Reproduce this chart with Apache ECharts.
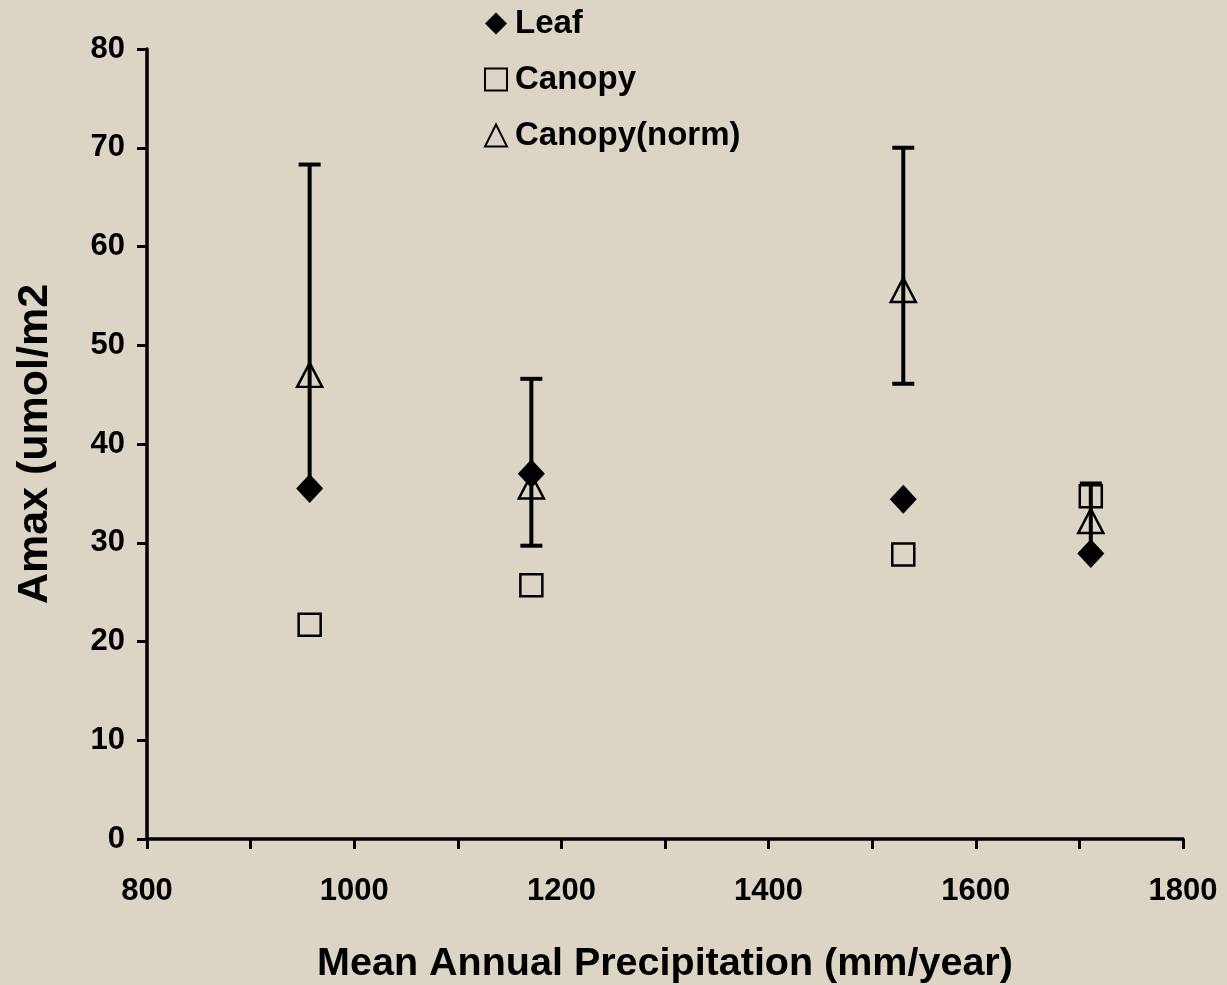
<!DOCTYPE html>
<html>
<head>
<meta charset="utf-8">
<script src="https://cdn.jsdelivr.net/npm/echarts@6/dist/echarts.min.js"></script>
<style>
  html, body { margin: 0; padding: 0; background: #dcd4c5; }
  #chart { width: 1227px; height: 985px; }
</style>
</head>
<body>
<div id="chart"></div>
<script>
// Mean annual precipitation at each site (mm/year)
const precip = [957, 1171, 1530, 1711];
// Amax (umol/m2) per site
const leaf = [35.5, 37.0, 34.4, 28.9];
const canopy = [21.7, 25.7, 28.8, 34.7];
const canopyNorm = [47.0, 35.7, 55.6, 32.2];
// Error bar bounds for Canopy(norm)
const normLow = [35.5, 29.7, 46.1, 29.0];
const normHigh = [68.3, 46.6, 70.0, 36.0];

const FONT = '"Liberation Sans", Arial, sans-serif';

const pairs = (xs, ys) => xs.map((x, i) => [x, ys[i]]);
const errData = precip.map((x, i) => [x, normLow[i], normHigh[i]]);

const chart = echarts.init(document.getElementById('chart'), null, { renderer: 'canvas' });

const hollow = { color: 'rgba(0,0,0,0)', borderColor: '#000', borderWidth: 2.5, opacity: 1 };

chart.setOption({
  backgroundColor: '#dcd4c5',
  animation: false,
  grid: { left: 147, right: 44, top: 49, bottom: 146, containLabel: false, outerBoundsMode: 'none' },
  legend: {
    orient: 'vertical',
    left: 479,
    top: 2,
    itemWidth: 22,
    itemHeight: 22,
    itemGap: 23,
    textStyle: { fontFamily: FONT, fontWeight: 'bold', fontSize: 33, color: '#000', padding: [0, 0, 0, 3] },
    data: ['Leaf', 'Canopy', 'Canopy(norm)']
  },
  xAxis: {
    type: 'value',
    min: 800, max: 1800, interval: 100,
    name: 'Mean Annual Precipitation (mm/year)',
    nameLocation: 'middle',
    nameGap: 105,
    nameTextStyle: { fontFamily: FONT, fontWeight: 'bold', fontSize: 39.5, color: '#000' },
    axisLine: { lineStyle: { color: '#000', width: 3.5 } },
    axisTick: { length: 10, lineStyle: { color: '#000', width: 3 } },
    axisLabel: {
      margin: 37,
      fontFamily: FONT, fontWeight: 'bold', fontSize: 31, color: '#000',
      formatter: v => (v % 200 === 0 ? String(v) : '')
    },
    splitLine: { show: false }
  },
  yAxis: {
    type: 'value',
    min: 0, max: 80, interval: 10,
    name: 'Amax (umol/m2',
    nameLocation: 'middle',
    nameGap: 90,
    nameRotate: 90,
    nameTextStyle: { fontFamily: FONT, fontWeight: 'bold', fontSize: 43, color: '#000' },
    axisLine: { lineStyle: { color: '#000', width: 3.5 } },
    axisTick: { length: 10, lineStyle: { color: '#000', width: 3 } },
    axisLabel: { margin: 22, fontFamily: FONT, fontWeight: 'bold', fontSize: 31, color: '#000' },
    splitLine: { show: false }
  },
  series: [
    {
      name: 'errbars',
      type: 'custom',
      data: errData,
      z: 1,
      silent: true,
      renderItem: (params, api) => {
        const x = api.value(0);
        const lo = api.coord([x, api.value(1)]);
        const hi = api.coord([x, api.value(2)]);
        const cap = 11;
        const st = { stroke: '#000', lineWidth: 4 };
        return {
          type: 'group',
          children: [
            { type: 'line', shape: { x1: lo[0], y1: lo[1], x2: hi[0], y2: hi[1] }, style: st },
            { type: 'line', shape: { x1: hi[0] - cap, y1: hi[1], x2: hi[0] + cap, y2: hi[1] }, style: st },
            { type: 'line', shape: { x1: lo[0] - cap, y1: lo[1], x2: lo[0] + cap, y2: lo[1] }, style: st }
          ]
        };
      }
    },
    {
      name: 'Canopy(norm)',
      type: 'scatter',
      z: 3,
      symbol: 'triangle',
      symbolSize: [25, 24],
      itemStyle: hollow,
      data: pairs(precip, canopyNorm)
    },
    {
      name: 'Canopy',
      type: 'scatter',
      z: 3,
      symbol: 'rect',
      symbolSize: 22,
      itemStyle: hollow,
      data: pairs(precip, canopy)
    },
    {
      name: 'Leaf',
      type: 'scatter',
      z: 4,
      symbol: 'diamond',
      symbolSize: [27, 29],
      itemStyle: { color: '#000', opacity: 1 },
      data: pairs(precip, leaf)
    }
  ]
});
</script>
</body>
</html>
